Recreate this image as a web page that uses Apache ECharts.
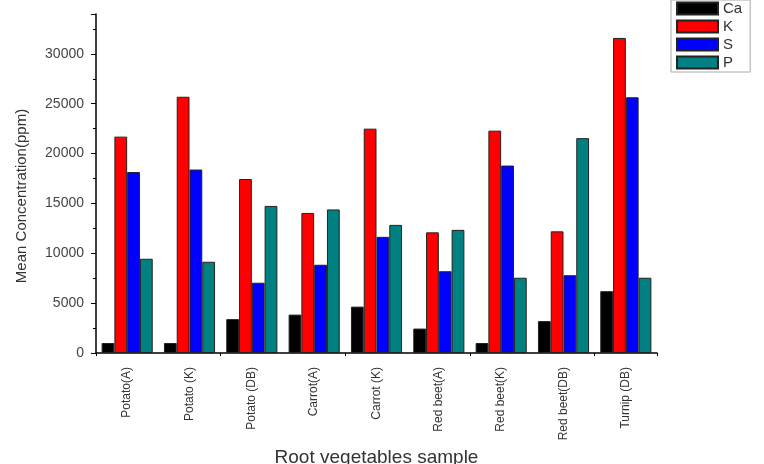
<!DOCTYPE html>
<html>
<head>
<meta charset="utf-8">
<script src="https://cdn.jsdelivr.net/npm/echarts@6/dist/echarts.min.js"></script>
<style>
  html, body { margin: 0; padding: 0; background: #fff; }
  #main { width: 764px; height: 464px; }
</style>
</head>
<body>
<div id="main"></div>
<script>
const mychart = echarts.init(document.getElementById('main'))

// samples on the x axis
var samples = ['Potato(A)', 'Potato (K)', 'Potato (DB)', 'Carrot(A)', 'Carrot (K)',
    'Red beet(A)', 'Red beet(K)', 'Red beet(DB)', 'Turnip (DB)']

// mean concentration (ppm)
var ca = [1000, 1000, 3400, 3850, 4650, 2450, 1000, 3200, 6200]
var k  = [21700, 25700, 17450, 14050, 22500, 12100, 22300, 12200, 31600]
var s  = [18150, 18400, 7050, 8850, 11650, 8200, 18800, 7800, 25650]
var p  = [9450, 9150, 14750, 14400, 12850, 12350, 7550, 21550, 7550]

var yTicks = [0, 5000, 10000, 15000, 20000, 25000, 30000]

var txt = '#333'
var fontFam = 'Liberation Sans, Arial, sans-serif'

function bar(name, data, color) {
    return {
        name: name,
        type: 'bar',
        data: data,
        barGap: '0%',
        barCategoryGap: '18%',
        itemStyle: { color: color, borderColor: '#222', borderWidth: 1 }
    }
}

mychart.setOption({
    animation: false,
    grid: { left: 96, right: 107, top: 14, bottom: 111, outerBoundsMode: 'none' },
    legend: {
        orient: 'vertical',
        left: 671,
        top: 0,
        itemWidth: 41,
        itemHeight: 12,
        itemGap: 3,
        padding: [1, 8, 2, 5],
        borderColor: '#aaa',
        borderWidth: 1,
        icon: 'rect',
        textStyle: { color: txt, fontSize: 15, fontFamily: fontFam },
        data: ['Ca', 'K', 'S', 'P']
    },
    graphic: [{
        type: 'text',
        x: 22,
        y: 196,
        rotation: Math.PI / 2,
        style: {
            text: 'Mean Concentration(ppm)',
            fill: txt,
            font: '15px ' + fontFam,
            align: 'center',
            verticalAlign: 'middle'
        }
    }],
    xAxis: [
        {
            type: 'category',
            data: samples,
            name: 'Root vegetables sample',
            nameLocation: 'middle',
            nameGap: 94,
            nameTextStyle: { color: txt, fontSize: 19, fontFamily: fontFam },
            axisLine: { lineStyle: { color: '#000', width: 1.5 } },
            axisTick: { alignWithLabel: true, length: 6, lineStyle: { color: '#000' } },
            axisLabel: { rotate: 90, color: txt, fontSize: 12, margin: 14, fontFamily: fontFam }
        },
        {
            type: 'category',
            data: samples,
            position: 'bottom',
            axisLine: { show: false },
            axisTick: { show: true, length: 3, lineStyle: { color: '#000' } },
            axisLabel: { show: false }
        }
    ],
    yAxis: {
        type: 'value',
        min: 0,
        max: 34000,
        interval: 5000,
        splitLine: { show: false },
        axisLine: { show: true, lineStyle: { color: '#000', width: 1.5 } },
        axisTick: { show: true, length: 5, lineStyle: { color: '#000' } },
        minorTick: { show: true, splitNumber: 2, length: 3, lineStyle: { color: '#000' } },
        axisLabel: {
            color: '#444', fontSize: 14, margin: 12, fontFamily: fontFam, showMaxLabel: false,
            formatter: function (v) { return yTicks.indexOf(v) >= 0 ? String(v) : '' }
        }
    },
    series: [
        bar('Ca', ca, '#000000'),
        bar('K', k, '#ff0000'),
        bar('S', s, '#0000ff'),
        bar('P', p, '#008080')
    ]
})
</script>
</body>
</html>
